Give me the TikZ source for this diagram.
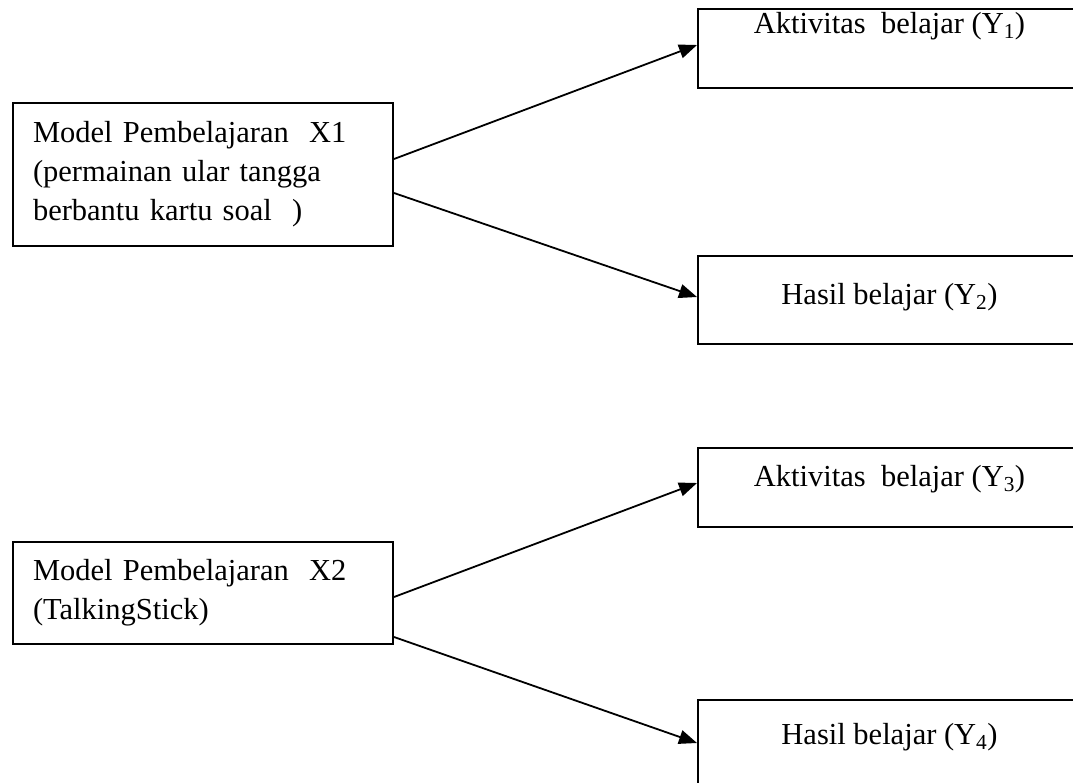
\documentclass[tikz,border=0pt]{standalone}
\usepackage{fontspec}
\setmainfont{Liberation Serif}
\usetikzlibrary{arrows.meta}
\tikzset{
  xbox/.style={draw, line width=2pt, anchor=north west, minimum width=380pt,
    inner xsep=20pt, inner ysep=0pt, text width=340pt, align=left,
    font=\fontsize{30.5}{39}\selectfont},
  ybox/.style={draw, line width=2pt, anchor=north west, minimum width=383pt,
    inner xsep=0pt, inner ysep=0pt, align=center,
    font=\fontsize{30.5}{39}\selectfont},
  conn/.style={line width=1.8pt, -{Triangle[length=18pt,width=14pt]}}
}
\begin{document}
\begin{tikzpicture}[x=1pt,y=-1pt]
\useasboundingbox (0,0) rectangle (1073,782);
\clip (0,0) rectangle (1073,782);
\node[xbox, minimum height=143pt] (x1) at (12,102)
  {Model Pembelajaran\ \ X1\\(permainan ular tangga\\berbantu kartu soal\ \ )};
\node[xbox, minimum height=102pt] (x2) at (12,541)
  {Model Pembelajaran\ \ X2\\(TalkingStick)};
\node[ybox, text height=24pt, text depth=55pt] (y1) at (697,8)
  {Aktivitas\ \ belajar (Y\textsubscript{1})};
\node[ybox, text height=48pt, text depth=40pt] (y2) at (697,255)
  {Hasil belajar (Y\textsubscript{2})};
\node[ybox, text height=38pt, text depth=41pt] (y3) at (697,447)
  {Aktivitas\ \ belajar (Y\textsubscript{3})};
\node[ybox, text height=44pt, text depth=52pt] (y4) at (697,699)
  {Hasil belajar (Y\textsubscript{4})};
\draw[conn] ([yshift=-57pt]x1.north east) -- ([yshift=-37pt]y1.north west);
\draw[conn] ([yshift=-91pt]x1.north east) -- ([yshift=-42pt]y2.north west);
\draw[conn] ([yshift=-56pt]x2.north east) -- ([yshift=-36pt]y3.north west);
\draw[conn] ([yshift=-96pt]x2.north east) -- ([yshift=-44pt]y4.north west);
\end{tikzpicture}
\end{document}
